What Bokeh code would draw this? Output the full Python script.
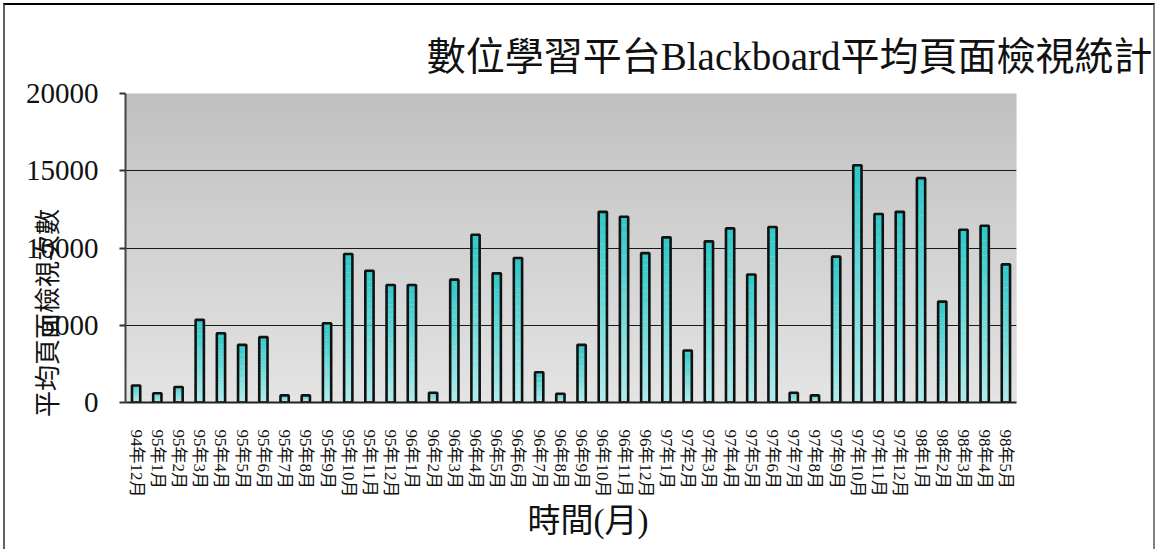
import math
from bokeh.plotting import figure
from bokeh.models import FactorRange, Range1d, FixedTicker, BoxAnnotation, Title
from bokeh.embed import file_html
from bokeh.resources import INLINE

months = [
    "94年12月",
    "95年1月", "95年2月", "95年3月", "95年4月", "95年5月", "95年6月",
    "95年7月", "95年8月", "95年9月", "95年10月", "95年11月", "95年12月",
    "96年1月", "96年2月", "96年3月", "96年4月", "96年5月", "96年6月",
    "96年7月", "96年8月", "96年9月", "96年10月", "96年11月", "96年12月",
    "97年1月", "97年2月", "97年3月", "97年4月", "97年5月", "97年6月",
    "97年7月", "97年8月", "97年9月", "97年10月", "97年11月", "97年12月",
    "98年1月", "98年2月", "98年3月", "98年4月", "98年5月",
]
views = [
    1100,
    600, 1000, 5350, 4480, 3730, 4230,
    460, 460, 5130, 9610, 8530, 7610,
    7610, 630, 7950, 10860, 8360, 9350,
    1960, 570, 3730, 12340, 12020, 9670,
    10690, 3370, 10430, 11270, 8280, 11360,
    630, 460, 9440, 15360, 12200, 12340,
    14520, 6530, 11180, 11440, 8940,
]
y_ticks = [0, 5000, 10000, 15000, 20000]
grid_ticks = [5000, 10000, 15000]

title_text = "數位學習平台Blackboard平均頁面檢視統計"
x_title = "時間(月)"
y_title = "平均頁面檢視次數"

FONT = "'Liberation Serif', 'Noto Sans CJK TC'"

p = figure(
    x_range=FactorRange(factors=months),
    y_range=Range1d(0, 20000),
    width=1152, height=546,
    output_backend="svg", toolbar_location=None,
    min_border_left=120, min_border_right=141,
    min_border_top=88, min_border_bottom=149,
)
p.styles = {"margin-left": "3px", "margin-top": "3px",
            "border-left": "2px solid #606060",
            "border-top": "2px solid #000000",
            "border-right": "2px solid #808080"}
p.outline_line_color = None
p.background_fill_color = "#d4d4d4"

# background vertical gradient (darker at top)
nb = 40
for k in range(nb):
    t = (k + 0.5) / nb
    g = int(round(228 - (228 - 192) * t))
    b = BoxAnnotation(bottom=20000 * k / nb, top=20000 * (k + 1) / nb,
                      fill_color=(g, g, g), fill_alpha=1.0,
                      line_color=None, level="image")
    p.add_layout(b)

# grid
p.xgrid.grid_line_color = None
p.ygrid.ticker = FixedTicker(ticks=grid_ticks)
p.ygrid.grid_line_color = "#1a1a1a"
p.ygrid.grid_line_width = 1.2

# gradient bars
N = 24
light = (176, 236, 236)
dark = (44, 200, 200)
sx, sb, st, sc = [], [], [], []
for m, v in zip(months, views):
    for j in range(N):
        t = (j + 0.5) / N
        c = tuple(int(round(light[i] + (dark[i] - light[i]) * t)) for i in range(3))
        sx.append(m)
        sb.append(v * j / N)
        st.append(v * (j + 1) / N)
        sc.append("#%02x%02x%02x" % c)
p.vbar(x=sx, bottom=sb, top=st, width=0.39, fill_color=sc, line_color=None)
p.vbar(x=months, top=views, width=0.39, fill_alpha=0,
       line_color="#111111", line_width=2.6)

# y axis
p.yaxis.ticker = FixedTicker(ticks=y_ticks)
p.yaxis.major_label_text_font = FONT
p.yaxis.major_label_text_font_size = "29px"
p.yaxis.major_label_text_color = "#111111"
p.yaxis.major_tick_out = 6
p.yaxis.major_tick_in = 0
p.yaxis.major_tick_line_color = "#333333"
p.yaxis.major_tick_line_width = 2
p.yaxis.minor_tick_line_color = None
p.yaxis.major_label_standoff = 21
p.yaxis.axis_line_color = "#444444"
p.yaxis.axis_line_width = 2
p.yaxis.axis_label = y_title + "\u3000" * 5
p.yaxis.axis_label_text_font = FONT
p.yaxis.axis_label_text_font_size = "26px"
p.yaxis.axis_label_text_font_style = "normal"
p.yaxis.axis_label_text_color = "#111111"
p.yaxis.axis_label_standoff = -40

# x axis
p.xaxis.major_label_orientation = -math.pi / 2
p.xaxis.major_label_text_font = FONT
p.xaxis.major_label_text_font_size = "17px"
p.xaxis.major_label_text_color = "#111111"
p.xaxis.major_tick_line_color = None
p.xaxis.major_label_standoff = 21
p.xaxis.axis_line_color = "#222222"
p.xaxis.axis_line_width = 2

# main title
p.title.text = title_text
p.title.align = "right"
p.title.offset = -136
p.title.text_font = FONT
p.title.text_font_size = "39px"
p.title.text_font_style = "normal"
p.title.text_color = "#111111"
p.title.standoff = 32

# x axis title
p.add_layout(Title(text=x_title, align="left", offset=402, standoff=0,
                   text_font=FONT, text_font_size="33px",
                   text_font_style="normal", text_color="#111111"), "below")

open("out.html", "w").write(file_html(p, INLINE))
